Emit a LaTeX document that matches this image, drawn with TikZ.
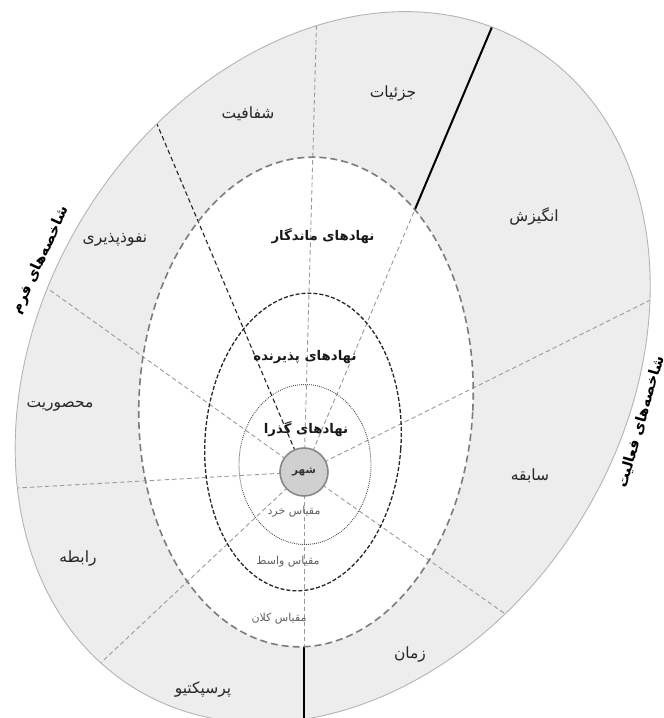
\documentclass[tikz,border=0pt]{standalone}
\usepackage{fontspec}
\newfontfamily\fa[Script=Arabic]{DejaVu Sans}
\TeXXeTstate=1
\newcommand\rtl[1]{\beginR #1\endR}
\definecolor{ringfill}{HTML}{EDEDED}
\definecolor{ringedge}{HTML}{B4B4B4}
\definecolor{spokegray}{HTML}{9A9A9A}
\definecolor{midedge}{HTML}{7C7C7C}
\definecolor{darkedge}{HTML}{262626}
\definecolor{cityfill}{HTML}{D0D0D0}
\definecolor{cityedge}{HTML}{888888}
\tikzset{
  spoke/.style={draw=spokegray, line width=0.9pt, dash pattern=on 4.5pt off 3pt},
  darkspoke/.style={draw=darkedge, line width=1.1pt, dash pattern=on 4.5pt off 3pt},
  solidspoke/.style={draw=black, line width=2pt},
  midring/.style={draw=midedge, line width=1.6pt, dash pattern=on 7pt off 4pt},
  darkring/.style={draw=darkedge, line width=1.3pt, dash pattern=on 4pt off 2pt},
  dotring/.style={draw=black!70, line width=0.9pt, dash pattern=on 0.9pt off 1.1pt},
  ringlab/.style={font=\fa\fontsize{15.5}{18}\selectfont, text=black!85, inner sep=1pt},
  layerlab/.style={font=\fa\bfseries\fontsize{13.3}{16}\selectfont, text=black!90, inner sep=1pt},
  scalelab/.style={font=\fa\fontsize{11}{13}\selectfont, text=black!62, inner sep=1pt},
  sidelab/.style={font=\fa\bfseries\fontsize{14.5}{17}\selectfont, text=black, inner sep=1pt},
  citynode/.style={circle, fill=cityfill, draw=cityedge, line width=1.6pt, minimum size=48pt, inner sep=0pt, font=\fa\bfseries\fontsize{10.5}{12}\selectfont, text=black!80},
}
\begin{document}
\begin{tikzpicture}[x=1pt,y=1pt]
\useasboundingbox (0,0) rectangle (664,718);
\clip (0,0) rectangle (664,718);
\coordinate (O) at (332.7,350.8);
\coordinate (C) at (304,246);
\coordinate (M) at (306,316);
\coordinate (D) at (303,276);
\coordinate (P) at (305,253.5);

% outer ring
\fill[ringfill, rotate around={58.2:(O)}] (O) ellipse [x radius=377.3pt, y radius=291.3pt];

% outer parts of the spokes
\begin{scope}
  \clip[rotate around={58.2:(O)}] (O) ellipse [x radius=377.3pt, y radius=291.3pt];
  \draw[spoke] (C) -- ++(26.4:700pt) coordinate (e1);
  \draw[solidspoke] (C) -- ++(67.1:700pt) coordinate (e2);
  \draw[spoke] (C) -- ++(88.4:700pt) coordinate (e3);
  \draw[darkspoke] (C) -- ++(112.9:700pt) coordinate (e4);
  \draw[spoke] (C) -- ++(144.4:700pt) coordinate (e5);
  \draw[spoke] (C) -- ++(183.2:700pt) coordinate (e6);
  \draw[spoke] (C) -- ++(223.2:700pt) coordinate (e7);
  \draw[solidspoke] (C) -- ++(270:700pt) coordinate (e8);
  \draw[spoke] (C) -- ++(324.8:700pt) coordinate (e9);
\end{scope}

% inner white zone
\fill[white, rotate around={-3:(M)}] (M) ellipse [x radius=167pt, y radius=245pt];
\begin{scope}
  \clip[rotate around={-3:(M)}] (M) ellipse [x radius=167pt, y radius=245pt];
  \foreach \a in {26.4,67.1,88.4,144.4,183.2,223.2,270,324.8}
    \draw[spoke] (C) -- ++(\a:400pt);
  \draw[darkspoke] (C) -- ++(112.9:400pt);
\end{scope}

% outlines
\draw[ringedge, line width=0.9pt, rotate around={58.2:(O)}] (O) ellipse [x radius=377.3pt, y radius=291.3pt];
\draw[midring, rotate around={-3:(M)}] (M) ellipse [x radius=167pt, y radius=245pt];
\draw[darkring, rotate around={-4:(D)}] (D) ellipse [x radius=98pt, y radius=149pt];
\draw[dotring] (P) ellipse [x radius=66pt, y radius=80pt];

% city
\node[citynode] (city) at (C) {\rtl{شهر}};

% ring labels
\node[ringlab] (joz) at (393,624) {\rtl{جزئیات}};
\node[ringlab] (shaf) at (248,604) {\rtl{شفافیت}};
\node[ringlab] (angiz) at (534,502) {\rtl{انگیزش}};
\node[ringlab] (nofuz) at (115,478) {\rtl{نفوذپذیری}};
\node[ringlab] (mahs) at (60,312) {\rtl{محصوریت}};
\node[ringlab] (sabeq) at (530,242) {\rtl{سابقه}};
\node[ringlab] (rabete) at (78,159) {\rtl{رابطه}};
\node[ringlab] (zaman) at (410,63) {\rtl{زمان}};
\node[ringlab] (persp) at (203,28) {\rtl{پرسپکتیو}};

% layer labels
\node[layerlab] (mand) at (323,482) {\rtl{نهادهای ماندگار}};
\node[layerlab] (pazir) at (305,361) {\rtl{نهادهای پذیرنده}};
\node[layerlab] (gozar) at (306,289) {\rtl{نهادهای گذرا}};

% scale labels
\node[scalelab] (khord) at (294,206) {\rtl{مقیاس خرد}};
\node[scalelab] (vaset) at (288,156) {\rtl{مقیاس واسط}};
\node[scalelab] (kalan) at (279,99) {\rtl{مقیاس کلان}};

% side labels
\node[sidelab, rotate=65] (form) at (41,458) {\rtl{شاخصه‌های فرم}};
\node[sidelab, rotate=74] (act) at (641,296) {\rtl{شاخصه‌های فعالیت}};
\end{tikzpicture}
\end{document}
